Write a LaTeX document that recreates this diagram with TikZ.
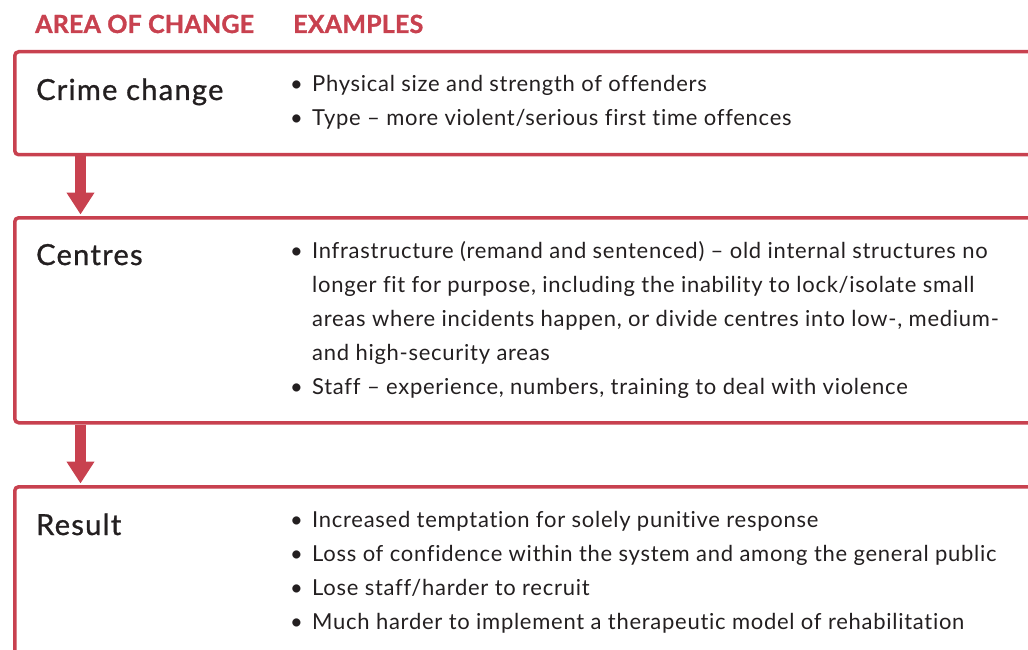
\documentclass[tikz,border=0pt]{standalone}
\usepackage{fontspec}
\setmainfont{Lato}[LetterSpace=3.3,Ligatures=NoCommon]
\newfontfamily\titlefont[FakeBold=1,LetterSpace=4.5,Ligatures=NoCommon]{Lato}
\newfontfamily\headfont[BoldFeatures={FakeBold=1.2},LetterSpace=0.8]{Lato}
\usetikzlibrary{arrows.meta,calc}
\definecolor{accent}{HTML}{C8414F}
\definecolor{ink}{HTML}{231F20}
\newcommand{\bodyfont}{\fontsize{22}{34}\selectfont}
\newcommand{\bl}{\textbullet}
\begin{document}
\begin{tikzpicture}[x=1pt,y=-1pt,
  box/.style={draw=accent, line width=3.5pt, rounded corners=4pt, anchor=north west, minimum width=1040pt, inner sep=0pt},
  head/.style={anchor=base west, inner sep=0pt, text=accent, font=\fontsize{25}{30}\selectfont\headfont\bfseries},
  title/.style={anchor=base west, inner sep=0pt, text=ink, font=\fontsize{29}{34}\selectfont\titlefont},
  body/.style={anchor=base west, inner sep=0pt, text=ink, font=\bodyfont},
  flow/.style={draw=accent, line width=11pt, -{Triangle[width=26.6pt,length=22pt]}, shorten >=1.5pt}]
\useasboundingbox (0,0) rectangle (1028,650);
\clip (0,0) rectangle (1028,650);

\node[head] (h1) at (35,33) {AREA OF CHANGE};
\node[head] (h2) at (293,33) {EXAMPLES};

\node[box, minimum height=103pt] (b1) at (13,50) {};
\node[box, minimum height=205pt] (b2) at (13,216) {};
\node[box, minimum height=200pt] (b3) at (13,485) {};

\draw[flow] ($(b1.south west)+(67.5,0)$) -- ($(b2.north west)+(67.5,0)$);
\draw[flow] ($(b2.south west)+(67.5,0)$) -- ($(b3.north west)+(67.5,0)$);

\node[title] (t1) at (36,100) {Crime change};
\node[title] (t2) at (36,265) {Centres};
\node[title] (t3) at (36,535) {Result};

\node[body] (e1) at (290,92) {\begin{tabular}[t]{@{}p{22pt}@{}l@{}}
\bl & Physical size and strength of offenders\\
\bl & Type – more violent/serious first time offences
\end{tabular}};
\node[body] (e2) at (290,258) {\begin{tabular}[t]{@{}p{22pt}@{}l@{}}
\bl & Infrastructure (remand and sentenced) – old internal structures no\\
 & longer fit for purpose, including the inability to lock/isolate small\\
 & areas where incidents happen, or divide centres into low-, medium-\\
 & and high-security areas\\
\bl & Staff – experience, numbers, training to deal with violence
\end{tabular}};
\node[body] (e3) at (290,527) {\begin{tabular}[t]{@{}p{22pt}@{}l@{}}
\bl & Increased temptation for solely punitive response\\
\bl & Loss of confidence within the system and among the general public\\
\bl & Lose staff/harder to recruit\\
\bl & Much harder to implement a therapeutic model of rehabilitation
\end{tabular}};
\end{tikzpicture}
\end{document}
